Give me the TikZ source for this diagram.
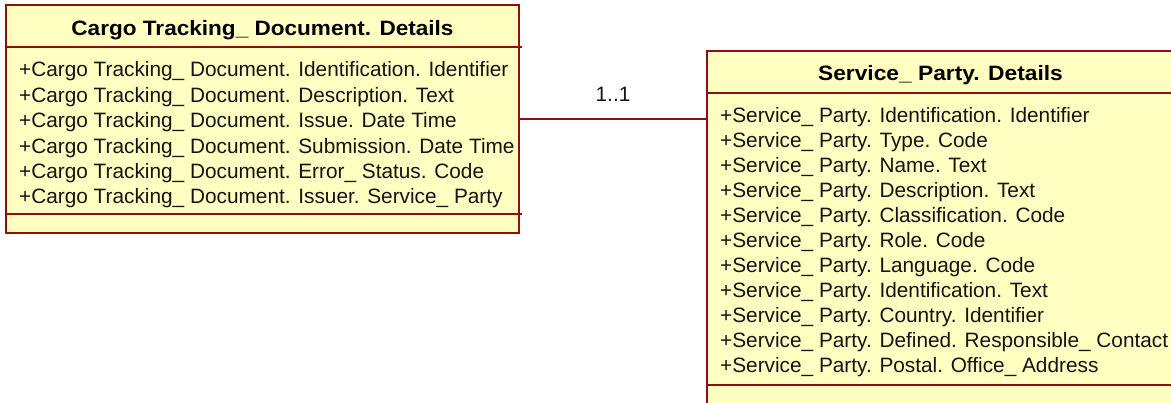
\documentclass[tikz,border=0pt]{standalone}
\usepackage{fontspec}
\setmainfont{Liberation Sans}
\definecolor{umlborder}{RGB}{140,16,16}
\definecolor{umlfill}{RGB}{255,255,194}
\definecolor{umltext}{RGB}{20,20,20}
\tikzset{
  classbox/.style={draw=umlborder, fill=umlfill, line width=2pt, rectangle, inner sep=0pt},
  sepline/.style={draw=umlborder, line width=2pt},
  assoc/.style={draw=umlborder, line width=1.6pt},
  attrtext/.style={anchor=base west, inner sep=0pt, text=umltext, font=\fontsize{20.8}{25}\selectfont},
  headtext/.style={anchor=base, inner sep=0pt, text=black, font=\fontsize{20.8}{25}\selectfont\bfseries},
  multtext/.style={anchor=base, inner sep=0pt, text=umltext, font=\fontsize{20.8}{25}\selectfont}
}
\begin{document}
\begin{tikzpicture}[x=1pt,y=-1pt]
\useasboundingbox (0,0) rectangle (1171,403);
% Cargo Tracking class
\node[classbox, minimum width=513pt, minimum height=228pt] (cargo) at (262.5,119) {};
\draw[sepline] (6,47) -- (522,47);
\draw[sepline] (6,214) -- (522,214);
\node[headtext] (cargoH) at (262.5,35.5) {\scalebox{1.085}[1]{Cargo Tracking\_ Document. Details}};
\foreach \t [count=\i from 0] in {
  {+Cargo Tracking\_ Document. Identification. Identifier},
  {+Cargo Tracking\_ Document. Description. Text},
  {+Cargo Tracking\_ Document. Issue. Date Time},
  {+Cargo Tracking\_ Document. Submission. Date Time},
  {+Cargo Tracking\_ Document. Error\_ Status. Code},
  {+Cargo Tracking\_ Document. Issuer. Service\_ Party}}
  \node[attrtext] (cargoA\i) at (19,77+25.4*\i) {\t};
% Service Party class
\node[classbox, minimum width=467pt, minimum height=359pt] (sp) at (940.5,230.5) {};
\draw[sepline] (707,93) -- (1180,93);
\draw[sepline] (707,385) -- (1180,385);
\node[headtext] (spH) at (940.5,80.5) {\scalebox{1.095}[1]{Service\_ Party. Details}};
\foreach \t [count=\i from 0] in {
  {+Service\_ Party. Identification. Identifier},
  {+Service\_ Party. Type. Code},
  {+Service\_ Party. Name. Text},
  {+Service\_ Party. Description. Text},
  {+Service\_ Party. Classification. Code},
  {+Service\_ Party. Role. Code},
  {+Service\_ Party. Language. Code},
  {+Service\_ Party. Identification. Text},
  {+Service\_ Party. Country. Identifier},
  {+Service\_ Party. Defined. Responsible\_ Contact},
  {+Service\_ Party. Postal. Office\_ Address}}
  \node[attrtext] (spA\i) at (720,122.5+25*\i) {\t};
% Association
\draw[assoc] (cargo.east) -- (cargo.east -| sp.west);
\node[multtext] (mult) at (613,101.5) {1..1};
\end{tikzpicture}
\end{document}
